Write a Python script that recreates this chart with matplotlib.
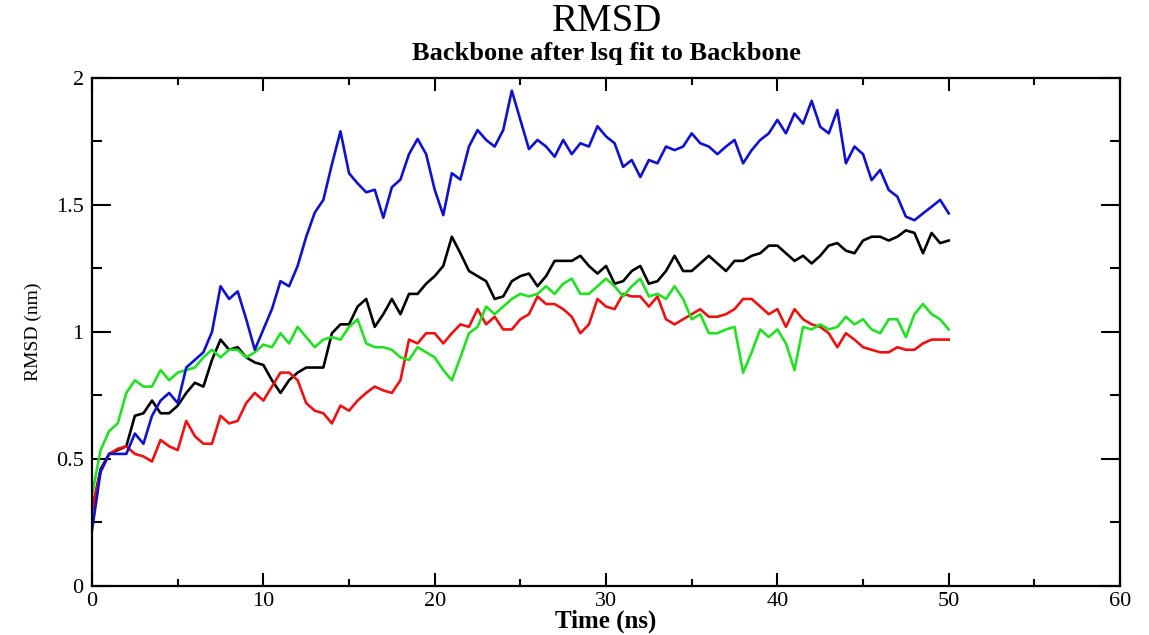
import numpy as np
import matplotlib
matplotlib.use("Agg")
import matplotlib.pyplot as plt
from matplotlib.ticker import MultipleLocator

plt.rcParams["font.family"] = ["Liberation Serif", "DejaVu Serif"]

# RMSD readings every 0.5 ns (values in nm)
time_ns = np.arange(0, 50.01, 0.5)

rmsd_black = [
    0.30, 0.46, 0.52, 0.535, 0.55, 0.67, 0.68, 0.73, 0.68, 0.68, 0.71, 0.76, 0.80, 0.785, 0.89, 0.97, 0.93, 0.94, 0.90, 0.88, 0.87,
    0.81, 0.76, 0.81, 0.84, 0.86, 0.86, 0.86, 0.995, 1.03, 1.03, 1.10, 1.13, 1.02, 1.07, 1.13, 1.07, 1.15, 1.15, 1.19, 1.22,
    1.26, 1.375, 1.31, 1.24, 1.22, 1.20, 1.13, 1.14, 1.20, 1.22, 1.23, 1.18, 1.22, 1.28, 1.28, 1.28, 1.30, 1.26, 1.23, 1.26,
    1.19, 1.20, 1.24, 1.26, 1.19, 1.20, 1.24, 1.30, 1.24, 1.24, 1.27, 1.30, 1.27, 1.24, 1.28, 1.28, 1.30, 1.31, 1.34, 1.34,
    1.31, 1.28, 1.30, 1.27, 1.30, 1.34, 1.35, 1.32, 1.31, 1.36, 1.375, 1.375, 1.36, 1.375, 1.40, 1.39, 1.31, 1.39, 1.35, 1.36,
]
rmsd_red = [
    0.30, 0.45, 0.52, 0.54, 0.55, 0.52, 0.51, 0.49, 0.575, 0.55, 0.535, 0.65, 0.59, 0.56, 0.56, 0.67, 0.64, 0.65, 0.72, 0.76, 0.73,
    0.785, 0.84, 0.84, 0.81, 0.72, 0.69, 0.68, 0.64, 0.71, 0.69, 0.73, 0.76, 0.785, 0.77, 0.76, 0.81, 0.97, 0.955, 0.995, 0.995,
    0.955, 0.995, 1.03, 1.02, 1.09, 1.03, 1.06, 1.01, 1.01, 1.05, 1.07, 1.14, 1.11, 1.11, 1.09, 1.06, 0.995, 1.03, 1.13, 1.10,
    1.09, 1.15, 1.14, 1.14, 1.10, 1.14, 1.05, 1.03, 1.05, 1.07, 1.09, 1.06, 1.06, 1.07, 1.09, 1.13, 1.13, 1.10, 1.07, 1.09,
    1.02, 1.09, 1.05, 1.03, 1.02, 0.995, 0.94, 0.995, 0.97, 0.94, 0.93, 0.92, 0.92, 0.94, 0.93, 0.93, 0.955, 0.97, 0.97, 0.97,
]
rmsd_green = [
    0.36, 0.535, 0.61, 0.64, 0.76, 0.81, 0.785, 0.785, 0.85, 0.81, 0.84, 0.85, 0.86, 0.90, 0.93, 0.90, 0.93, 0.93, 0.90, 0.92, 0.95,
    0.94, 0.995, 0.955, 1.02, 0.98, 0.94, 0.97, 0.98, 0.97, 1.02, 1.05, 0.955, 0.94, 0.94, 0.93, 0.90, 0.89, 0.94, 0.92, 0.90,
    0.85, 0.81, 0.90, 0.995, 1.02, 1.10, 1.07, 1.10, 1.13, 1.15, 1.14, 1.15, 1.18, 1.15, 1.19, 1.21, 1.15, 1.15, 1.18, 1.21,
    1.18, 1.14, 1.18, 1.21, 1.14, 1.15, 1.13, 1.18, 1.13, 1.05, 1.07, 0.995, 0.995, 1.01, 1.02, 0.84, 0.92, 1.01, 0.98, 1.01,
    0.955, 0.85, 1.02, 1.01, 1.03, 1.01, 1.02, 1.06, 1.03, 1.05, 1.01, 0.995, 1.05, 1.05, 0.98, 1.07, 1.11, 1.07, 1.05, 1.01,
]
rmsd_blue = [
    0.22, 0.45, 0.52, 0.52, 0.52, 0.60, 0.56, 0.67, 0.73, 0.76, 0.72, 0.86, 0.89, 0.92, 1.00, 1.18, 1.13, 1.16, 1.05, 0.93, 1.01,
    1.09, 1.20, 1.18, 1.26, 1.375, 1.47, 1.52, 1.66, 1.79, 1.625, 1.585, 1.55, 1.56, 1.45, 1.57, 1.60, 1.70, 1.76, 1.70, 1.56,
    1.46, 1.625, 1.60, 1.73, 1.795, 1.756, 1.73, 1.795, 1.95, 1.835, 1.72, 1.756, 1.73, 1.69, 1.756, 1.70, 1.743, 1.73, 1.81, 1.77,
    1.743, 1.65, 1.677, 1.61, 1.677, 1.664, 1.73, 1.716, 1.73, 1.782, 1.743, 1.73, 1.70, 1.73, 1.756, 1.664, 1.716, 1.756, 1.782, 1.835,
    1.782, 1.86, 1.82, 1.91, 1.808, 1.782, 1.874, 1.664, 1.73, 1.70, 1.598, 1.638, 1.559, 1.533, 1.454, 1.44, 1.467, 1.493, 1.52, 1.467,
]

series = [
    (rmsd_black, "#000000"),
    (rmsd_red, "#ee1111"),
    (rmsd_green, "#22e022"),
    (rmsd_blue, "#1010d0"),
]

fig = plt.figure(figsize=(11.49, 6.35), dpi=100)
ax = fig.add_axes([0.0801, 0.0772, 0.8947, 0.8000])

for values, color in series:
    ax.plot(time_ns, values, color=color, linewidth=1.9)

ax.set_xlim(0, 60)
ax.set_ylim(0, 2)
ax.xaxis.set_major_locator(MultipleLocator(10))
ax.xaxis.set_minor_locator(MultipleLocator(5))
ax.yaxis.set_major_locator(MultipleLocator(0.5))
ax.yaxis.set_minor_locator(MultipleLocator(0.25))
ax.set_yticks([0, 0.5, 1, 1.5, 2])
ax.set_yticklabels(["0", "0.5", "1", "1.5", "2"])

ax.tick_params(axis="both", which="both", direction="in", top=True, right=True,
               labelsize=16, width=1.5)
ax.tick_params(axis="x", which="major", length=9.5, pad=4)
ax.tick_params(axis="x", which="minor", length=5)
ax.tick_params(axis="y", which="major", length=14, pad=6)
ax.tick_params(axis="y", which="minor", length=7)
for spine in ax.spines.values():
    spine.set_linewidth(1.6)

ax.set_xlabel("Time (ns)", fontsize=18, fontweight="bold", labelpad=-1)
ax.set_ylabel("RMSD (nm)", fontsize=14, labelpad=10)

fig.text(0.528, 0.966, "RMSD", ha="center", va="center", fontsize=28)
fig.text(0.528, 0.915, "Backbone after lsq fit to Backbone", ha="center", va="center",
         fontsize=19, fontweight="bold")

fig.savefig("out.png", dpi=100)
